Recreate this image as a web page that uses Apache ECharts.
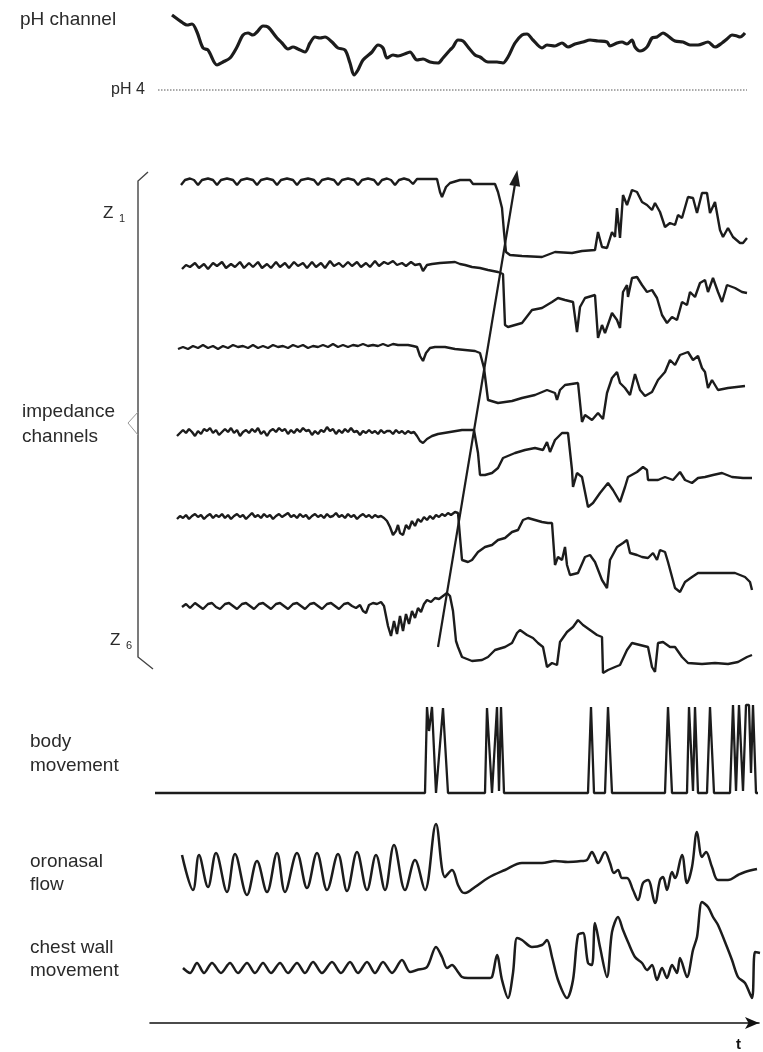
<!DOCTYPE html>
<html><head><meta charset="utf-8">
<script src="https://cdn.jsdelivr.net/npm/echarts/dist/echarts.min.js"></script>
<style>html,body{margin:0;padding:0;background:#fff}#c{width:763px;height:1052px}</style>
</head><body><div id="c"></div>
<script>
// ---- data: [time (s), deflection] ----
const phTrace = [[2.2,35],[3.3,27],[3.7,25],[4.2,26],[4.7,18],[5.3,2],[5.8,0],[6.7,-15],[7.3,-12],[8.0,-8],[8.7,3],[9.3,15],[9.8,17],[10.3,15],[10.7,18],[11.3,24],[11.8,23],[12.7,12],[13.2,7],[13.8,1],[14.3,3],[14.8,1],[15.5,-2],[16.0,7],[16.5,13],[17.0,12],[17.5,13],[18.2,8],[18.8,2],[19.5,0],[20.0,-13],[20.4,-25],[20.8,-20],[21.3,-10],[22.2,-2],[22.8,5],[23.3,2],[23.7,-8],[24.3,-5],[24.8,-6],[25.7,-3],[26.0,-2],[26.7,-10],[27.3,-9],[28.0,-12],[28.8,-13],[29.3,-8],[30.0,0],[30.3,3],[30.8,10],[31.3,9],[31.8,3],[32.5,-5],[33.0,-7],[33.8,-12],[34.7,-12],[35.3,-13],[35.8,-7],[36.5,7],[37.2,15],[37.7,16],[38.3,10],[39.2,2],[39.7,5],[40.5,4],[41.2,7],[41.8,3],[42.5,6],[43.3,8],[44.0,10],[44.8,9],[45.7,8],[46.0,4],[46.7,7],[47.2,8],[47.7,6],[48.2,10],[48.5,3],[49.0,-1],[49.7,3],[50.2,12],[50.7,13],[51.3,17],[51.8,14],[52.5,9],[53.3,8],[54.0,5],[54.8,5],[55.8,8],[56.5,3],[57.2,7],[57.7,11],[58.2,15],[58.7,14],[59.0,13],[59.5,17]];
const ph4Line = [[0.8,-40],[59.7,-40]];

const z1 = [[3.1,-3],[3.5,2],[4.0,3.5],[4.4,2],[4.8,-3],[5.2,2],[5.8,3.5],[6.3,2],[6.7,-3],[7.1,2],[7.7,3.5],[8.3,2],[8.7,-3],[9.1,2],[9.7,3.5],[10.3,2],[10.7,-3],[11.1,2],[11.7,3.5],[12.3,2],[12.7,-3],[13.1,2],[13.7,3.5],[14.3,2],[14.7,-3],[15.1,2],[15.8,3.5],[16.4,2],[16.8,-3],[17.2,2],[17.8,3.5],[18.4,2],[18.8,-3],[19.2,2],[19.8,3.5],[20.4,2],[20.8,-3],[21.2,2],[21.8,3.5],[22.4,2],[22.8,-3],[23.2,2],[23.7,3.5],[24.1,2],[24.5,-3],[24.9,2],[25.4,3.5],[25.9,2],[26.3,-2],[26.7,3],[28.7,3],[29.0,-10],[29.2,-15],[29.6,-5],[30.0,-1],[31.0,2],[32.0,2],[32.3,-2],[34.5,-2],[34.8,-10],[35.2,-26],[35.4,-50],[35.6,-70],[36.0,-73],[37.2,-74],[39.2,-75],[40.5,-70],[42.2,-71],[43.2,-69],[44.5,-68],[44.8,-50],[45.2,-65],[45.7,-66],[46.2,-50],[46.5,-55],[46.7,-26],[47.0,-56],[47.3,-13],[47.7,-23],[48.2,-8],[48.7,-10],[49.2,-20],[49.7,-23],[50.2,-28],[50.5,-21],[51.0,-30],[51.5,-45],[52.0,-41],[52.5,-43],[52.8,-33],[53.2,-36],[53.8,-15],[54.3,-16],[54.7,-31],[55.2,-11],[55.7,-11],[56.0,-31],[56.5,-20],[57.0,-48],[57.3,-55],[57.8,-46],[58.3,-55],[59.0,-61],[59.3,-61],[59.7,-56]];

const z2 = [[3.2,-3],[3.6,1],[4.0,-1],[4.5,3],[4.9,-2],[5.4,2],[5.8,-3],[6.3,3],[6.7,0],[7.2,4],[7.6,-2],[8.1,2],[8.5,-1],[9.0,4],[9.4,-2],[9.9,3],[10.3,-1],[10.8,4],[11.2,-2],[11.7,2],[12.1,-2],[12.6,4],[13.0,-1],[13.5,3],[13.9,-2],[14.4,4],[14.8,0],[15.3,3],[15.7,-2],[16.2,4],[16.6,-1],[17.1,3],[17.5,-2],[18.0,5],[18.4,0],[18.9,3],[19.3,-1],[19.8,4],[20.2,0],[20.7,4],[21.1,-1],[21.6,3],[22.0,-1],[22.5,5],[22.9,0],[23.4,4],[23.8,2],[24.3,5],[24.7,1],[25.2,3],[25.6,0],[26.1,4],[26.5,1],[27.0,2],[27.3,-5],[27.7,1],[28.2,2],[29.0,3],[30.5,4],[31.0,2],[31.5,1],[32.2,-1],[33.0,-2],[33.8,-4],[34.8,-6],[35.3,-8],[35.5,-59],[35.8,-61],[37.2,-57],[38.2,-44],[39.2,-42],[40.2,-36],[40.8,-32],[41.5,-34],[42.3,-36],[42.7,-66],[43.0,-41],[43.5,-32],[44.5,-29],[44.8,-72],[45.2,-59],[45.5,-67],[46.2,-47],[46.7,-54],[47.0,-62],[47.3,-26],[47.7,-19],[47.8,-31],[48.2,-12],[48.7,-11],[49.2,-19],[49.7,-26],[50.2,-24],[50.7,-32],[51.2,-49],[51.7,-57],[52.2,-51],[52.7,-54],[53.2,-36],[53.7,-39],[54.0,-26],[54.5,-31],[55.0,-17],[55.5,-14],[55.8,-26],[56.3,-12],[56.8,-26],[57.2,-36],[57.7,-19],[58.5,-22],[59.2,-26],[59.7,-27]];

const z3 = [[2.8,-1],[3.3,1],[3.8,-1],[4.3,2],[4.8,0],[5.3,3],[5.8,0],[6.3,2],[6.8,-1],[7.3,2],[7.8,0],[8.3,3],[8.8,1],[9.3,2],[9.8,0],[10.3,3],[10.8,0],[11.3,2],[11.8,0],[12.3,3],[12.8,1],[13.3,2],[13.8,0],[14.3,3],[14.8,1],[15.3,3],[15.8,0],[16.3,2],[16.8,1],[17.3,3],[17.8,1],[18.3,4],[18.8,1],[19.3,3],[19.8,1],[20.3,3],[20.8,2],[21.3,4],[21.8,2],[22.3,3],[22.8,2],[23.3,4],[23.8,2],[24.3,4],[24.8,3],[25.3,3],[25.8,3],[26.3,2],[26.7,1],[27.0,-8],[27.3,-13],[27.6,-5],[28.0,0],[28.5,1],[29.5,1],[30.5,-1],[31.5,-2],[32.5,-3],[33.0,-5],[33.4,-20],[33.8,-52],[34.8,-55],[36.2,-53],[37.2,-50],[38.5,-47],[39.7,-42],[40.5,-45],[40.7,-52],[41.0,-42],[41.5,-37],[42.8,-35],[43.2,-74],[43.5,-67],[44.2,-72],[44.8,-65],[45.3,-71],[45.7,-45],[46.2,-30],[46.7,-24],[47.0,-35],[47.5,-40],[48.0,-47],[48.5,-26],[49.0,-42],[49.5,-48],[50.2,-44],[50.8,-32],[51.5,-24],[52.0,-12],[52.5,-17],[53.0,-7],[53.8,-4],[54.3,-12],[54.8,-8],[55.2,-20],[55.5,-24],[55.8,-40],[56.2,-32],[56.8,-42],[57.8,-40],[59.5,-38]];

const z4 = [[2.7,-3],[3.0,0],[3.3,3],[3.6,0],[3.9,4],[4.2,1],[4.5,-3],[4.8,2],[5.1,-1],[5.4,4],[5.7,2],[6.0,5],[6.3,0],[6.6,3],[6.9,-2],[7.2,1],[7.5,4],[7.8,1],[8.1,5],[8.4,0],[8.7,3],[9.0,-3],[9.3,1],[9.6,3],[9.9,0],[10.2,4],[10.5,1],[10.8,5],[11.1,-1],[11.4,2],[11.7,-3],[12.0,2],[12.3,4],[12.6,1],[12.9,5],[13.2,2],[13.5,4],[13.8,-1],[14.1,3],[14.4,0],[14.7,4],[15.0,1],[15.3,5],[15.6,2],[15.9,3],[16.2,-2],[16.5,2],[16.8,-1],[17.1,3],[17.4,1],[17.7,6],[18.0,2],[18.3,4],[18.6,-1],[18.9,3],[19.2,0],[19.5,4],[19.8,1],[20.1,5],[20.4,1],[20.7,2],[21.0,-2],[21.3,2],[21.6,0],[21.9,3],[22.2,0],[22.5,2],[22.8,-1],[23.1,3],[23.4,0],[23.7,2],[24.0,2],[24.3,-1],[24.6,3],[24.9,0],[25.2,2],[25.5,-1],[25.8,2],[26.1,0],[26.4,1],[26.7,-3],[27.0,-8],[27.3,-10],[27.7,-6],[28.2,-3],[28.8,-1],[29.4,0],[30.0,1],[30.6,2],[31.2,3],[31.8,3],[32.4,3],[32.8,-20],[33.0,-42],[33.5,-42],[34.2,-40],[34.8,-35],[35.3,-25],[36.5,-20],[37.5,-17],[38.5,-15],[39.3,-17],[39.7,-9],[40.0,-19],[40.5,-7],[41.2,0],[41.8,0],[42.2,-37],[42.3,-54],[42.7,-40],[43.2,-44],[43.8,-74],[44.3,-70],[45.0,-60],[45.8,-50],[46.3,-57],[47.0,-69],[47.5,-54],[47.8,-44],[48.7,-39],[49.3,-34],[49.7,-37],[49.8,-47],[50.8,-47],[51.5,-44],[52.3,-47],[53.0,-39],[53.5,-47],[54.2,-50],[54.8,-45],[55.5,-44],[56.3,-42],[57.2,-40],[58.2,-44],[59.3,-45],[60.2,-45]];

const z5 = [[2.7,-2],[3.0,1],[3.3,-1],[3.6,2],[3.9,-2],[4.2,1],[4.5,3],[4.8,0],[5.1,2],[5.4,-2],[5.7,1],[6.0,3],[6.3,-1],[6.6,2],[6.9,0],[7.2,3],[7.5,-1],[7.8,2],[8.1,-2],[8.4,1],[8.7,3],[9.0,0],[9.3,2],[9.6,-2],[9.9,1],[10.2,4],[10.5,0],[10.8,2],[11.1,-1],[11.4,3],[11.7,0],[12.0,2],[12.3,-2],[12.6,1],[12.9,3],[13.2,0],[13.5,2],[13.8,4],[14.1,0],[14.4,2],[14.7,-1],[15.0,3],[15.3,0],[15.6,2],[15.9,-2],[16.2,1],[16.5,3],[16.8,0],[17.1,2],[17.4,-1],[17.7,3],[18.0,0],[18.3,1],[18.6,4],[18.9,0],[19.2,2],[19.5,-1],[19.8,3],[20.1,0],[20.4,2],[20.7,-2],[21.0,1],[21.3,3],[21.6,0],[21.9,2],[22.2,-1],[22.5,2],[22.8,0],[23.1,1],[23.4,-1],[23.7,-4],[24.0,-10],[24.3,-18],[24.6,-14],[24.8,-8],[25.0,-16],[25.3,-18],[25.6,-8],[25.9,-12],[26.2,-4],[26.5,-9],[26.8,-2],[27.1,-5],[27.4,0],[27.7,-3],[28.0,1],[28.3,-2],[28.6,2],[28.9,0],[29.2,3],[29.5,1],[29.8,4],[30.1,2],[30.5,5],[30.8,4],[31.0,-20],[31.2,-43],[31.8,-45],[32.2,-43],[32.8,-35],[33.5,-30],[34.2,-28],[34.8,-23],[35.5,-21],[36.2,-15],[36.8,-13],[37.3,-3],[37.8,-1],[38.5,-3],[39.2,-5],[39.8,-6],[40.2,-6],[40.5,-48],[40.8,-40],[41.2,-43],[41.5,-30],[41.7,-48],[42.0,-58],[42.8,-56],[43.5,-40],[44.0,-38],[44.5,-45],[45.2,-63],[45.7,-71],[46.0,-43],[46.7,-30],[47.3,-26],[47.7,-23],[48.0,-36],[48.7,-38],[49.2,-40],[49.8,-41],[50.3,-36],[50.7,-43],[51.0,-33],[51.5,-35],[51.8,-45],[52.5,-71],[53.0,-75],[53.5,-65],[54.2,-60],[54.8,-56],[55.8,-56],[57.2,-56],[58.5,-56],[59.5,-60],[60.0,-65],[60.2,-73]];

const z6 = [[3.2,-1],[3.6,2],[4.0,-2],[4.5,3],[4.9,0],[5.3,-3],[5.8,2],[6.2,3],[6.6,-1],[7.0,-3],[7.5,2],[7.9,3],[8.3,0],[8.7,-3],[9.2,2],[9.6,3],[10.0,0],[10.4,-3],[10.9,2],[11.3,3],[11.7,0],[12.1,-3],[12.6,2],[13.0,3],[13.4,0],[13.8,-3],[14.3,2],[14.7,3],[15.1,0],[15.5,-3],[16.0,2],[16.4,3],[16.8,0],[17.2,-3],[17.7,2],[18.1,3],[18.5,0],[18.9,-3],[19.4,2],[19.8,3],[20.2,0],[20.6,-2],[21.0,1],[21.3,-5],[21.6,-7],[21.9,1],[22.3,3],[22.7,2],[23.1,4],[23.4,0],[23.8,-20],[24.1,-30],[24.4,-15],[24.7,-28],[25.0,-10],[25.3,-25],[25.6,-8],[25.9,-18],[26.2,-5],[26.5,-12],[26.8,-2],[27.1,-6],[27.4,2],[27.7,6],[28.1,4],[28.5,8],[28.9,7],[29.3,10],[29.7,13],[30.0,10],[30.3,-5],[30.6,-35],[30.8,-41],[31.2,-51],[32.2,-55],[33.2,-54],[33.8,-51],[34.5,-44],[35.5,-41],[36.2,-37],[36.7,-27],[37.0,-24],[37.7,-29],[38.3,-32],[38.8,-37],[39.3,-41],[39.7,-61],[40.2,-57],[40.7,-59],[41.0,-36],[41.7,-26],[42.3,-21],[42.8,-14],[43.3,-19],[44.0,-24],[44.7,-29],[45.2,-31],[45.3,-67],[45.8,-64],[46.5,-61],[47.0,-59],[47.7,-44],[48.2,-37],[49.0,-39],[49.8,-41],[50.2,-61],[50.5,-66],[50.8,-37],[51.3,-36],[52.0,-41],[52.5,-41],[53.2,-51],[53.8,-57],[55.2,-58],[56.5,-57],[57.8,-58],[58.8,-56],[59.7,-51],[60.2,-49]];

const bodyMove = [[0.5,0],[27.5,0],[27.7,86],[27.9,62],[28.2,86],[28.6,0],[28.8,0],[29.3,85],[29.8,0],[33.5,0],[33.7,85],[34.2,0],[34.4,0],[34.7,86],[34.9,2],[35.1,86],[35.4,0],[43.8,0],[44.1,86],[44.4,0],[45.5,0],[45.8,86],[46.2,0],[51.5,0],[51.8,86],[52.2,0],[53.7,0],[53.9,86],[54.3,2],[54.5,86],[54.8,0],[55.7,0],[56.0,86],[56.4,0],[58.0,0],[58.3,88],[58.6,2],[58.9,88],[59.3,2],[59.6,88],[59.9,88],[60.1,20],[60.3,88],[60.6,0],[60.8,0]];

const oronasal = [[3.2,17],[4.3,-18],[4.9,17],[5.8,-15],[6.6,19],[7.7,-20],[8.5,18],[9.7,-23],[10.7,11],[11.7,-20],[12.7,19],[13.5,-20],[14.7,19],[15.7,-16],[16.7,19],[17.7,-18],[18.8,18],[19.7,-19],[20.7,20],[21.7,-18],[22.6,17],[23.5,-18],[24.4,27],[25.5,-18],[26.5,12],[27.5,-18],[28.6,48],[29.5,-5],[30.2,2],[30.8,-13],[31.2,-20],[31.5,-21],[32.5,-15],[33.8,-6],[35.5,2],[37.2,9],[39.2,9],[40.5,11],[41.8,10],[43.2,11],[43.7,12],[44.2,20],[44.5,15],[44.8,9],[45.5,20],[46.0,9],[46.4,-1],[46.8,2],[47.2,-6],[47.7,-6],[48.3,-18],[48.8,-28],[49.3,-11],[49.8,-8],[50.5,-31],[51.0,-8],[51.3,-5],[51.7,-18],[52.2,0],[52.5,-6],[53.2,17],[53.7,-11],[54.2,5],[54.7,40],[55.2,15],[55.6,20],[56.2,5],[56.8,-8],[57.8,-8],[58.8,-3],[59.5,0],[60.7,3]];

const chestWall = [[3.3,0],[4.0,-5],[4.7,5],[5.4,-5],[6.2,5],[7.1,-5],[8.0,5],[8.8,-5],[9.7,5],[10.5,-5],[11.3,5],[12.1,-5],[13.0,5],[13.8,-5],[14.7,5],[15.5,-5],[16.3,6],[17.2,-5],[18.2,6],[19.1,-5],[20.0,6],[20.8,-5],[21.7,6],[22.5,-5],[23.3,6],[24.2,-5],[25.2,8],[26.0,-4],[26.7,-2],[27.7,1],[28.6,21],[29.2,11],[29.7,0],[30.2,3],[30.8,-4],[31.2,-9],[31.8,-10],[33.8,-10],[34.2,-9],[34.7,13],[35.2,-12],[35.8,-30],[36.3,-5],[36.7,30],[37.2,28],[38.2,21],[39.2,23],[39.7,28],[40.2,11],[40.8,-12],[41.7,-30],[42.3,-12],[42.8,33],[43.3,35],[43.8,5],[44.2,3],[44.5,45],[45.0,21],[45.7,-9],[46.2,36],[46.8,51],[47.3,38],[47.8,26],[48.5,11],[49.2,5],[49.7,-2],[50.2,3],[50.7,-12],[51.2,0],[51.7,-10],[52.2,3],[52.7,-5],[53.0,10],[53.7,-9],[54.3,18],[54.7,31],[55.2,66],[55.8,61],[56.3,51],[56.8,43],[57.7,21],[58.2,8],[58.8,-9],[59.5,-15],[60.2,-30],[60.5,16],[61.0,15]];

// arrow across impedance channels: [time, deflection] start on Z6 level, end above Z1
const arrowStart = [28.8, -41];
const arrowEnd = [36.6, 4];

const labels = {
  ph: 'pH channel', ph4: 'pH 4', imp1: 'impedance', imp2: 'channels',
  body1: 'body', body2: 'movement', oro1: 'oronasal', oro2: 'flow',
  chest1: 'chest wall', chest2: 'movement', time: 't'
};

// ---- layout (vertical placement of each channel's zero line, in chart units) ----
const BASE = {ph:50, z1:182, z2:266, z3:348, z4:433, z5:517, z6:606, body:793, oro:872, chest:968};

const INK = '#1c1c1c';
const FONT = '"Liberation Sans", Arial, sans-serif';

function place(arr, key){ return arr.map(p => [p[0], p[1] - BASE[key]]); }
function trace(name, arr, key, w, smooth){
  return {name, type:'line', data: place(arr,key), showSymbol:false, symbol:'none',
    smooth: smooth || false, lineStyle:{color:INK, width:w}, silent:true, z:3};
}

const series = [
  trace('pH', phTrace, 'ph', 3.2, 0.3),
  {name:'pH4', type:'line', data: place(ph4Line,'ph'), symbol:'none', silent:true,
   lineStyle:{color:'#555', width:1, type:[1.5,1.5]}},
  trace('Z1', z1, 'z1', 2.4),
  trace('Z2', z2, 'z2', 2.4),
  trace('Z3', z3, 'z3', 2.4),
  trace('Z4', z4, 'z4', 2.4),
  trace('Z5', z5, 'z5', 2.4),
  trace('Z6', z6, 'z6', 2.4),
  trace('body', bodyMove, 'body', 2.3),
  trace('oronasal', oronasal, 'oro', 2.5, 0.35),
  trace('chest', chestWall, 'chest', 2.5, 0.3),
  {name:'arrow', type:'line', data:[], symbol:'none', silent:true,
   markLine:{silent:true, symbol:['none','triangle'], symbolSize:[11,16], label:{show:false},
     lineStyle:{color:INK, width:2.2, type:'solid'},
     data:[[{coord:[arrowStart[0], arrowStart[1]-BASE.z6]},{coord:[arrowEnd[0], arrowEnd[1]-BASE.z1]}]]}}
];

function txt(text, x, y, size, extra){
  return Object.assign({type:'text', x, y, silent:true,
    style:{text, fill:'#2a2a2a', font: size + 'px ' + FONT, verticalAlign:'middle'}}, extra||{});
}

const graphic = [
  txt(labels.ph, 20, 20, 19),
  txt(labels.ph4, 111, 90, 16),
  txt('Z', 103, 213, 17),
  txt('1', 119, 219, 11),
  txt(labels.imp1, 22, 412, 19),
  txt(labels.imp2, 22, 437, 19),
  txt('Z', 110, 640, 17),
  txt('6', 126, 646, 11),
  txt(labels.body1, 30, 742, 19),
  txt(labels.body2, 30, 766, 19),
  txt(labels.oro1, 30, 862, 19),
  txt(labels.oro2, 30, 885, 19),
  txt(labels.chest1, 30, 948, 19),
  txt(labels.chest2, 30, 971, 19),
  {type:'text', x:736, y:1045, silent:true, style:{text:labels.time, fill:'#111', font:'bold 15px ' + FONT, verticalAlign:'middle'}},
  {type:'polyline', silent:true, shape:{points:[[148,172],[138,181],[138,657],[153,669]]}, style:{stroke:'#444', lineWidth:1.4, fill:null}},
  {type:'polyline', silent:true, shape:{points:[[138,412],[128,423],[138,435]]}, style:{stroke:'#999', lineWidth:1, fill:null}}
];

const chart = echarts.init(document.getElementById('c'), null, {renderer:'canvas'});
chart.setOption({
  animation:false,
  backgroundColor:'#ffffff',
  grid:{left:150, right:4, top:0, bottom:29, containLabel:false},
  xAxis:{type:'value', min:0, max:60.9, splitLine:{show:false}, axisTick:{show:false}, axisLabel:{show:false},
    axisLine:{show:true, onZero:false, symbol:['none','arrow'], symbolSize:[9,14], lineStyle:{color:'#111', width:1.6}}},
  yAxis:{type:'value', min:-1023, max:0, show:false},
  graphic,
  series
});
</script>
</body></html>
